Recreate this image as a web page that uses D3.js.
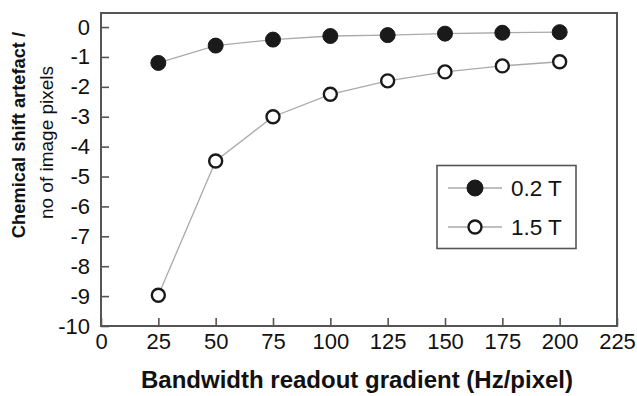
<!DOCTYPE html>
<html><head><meta charset="utf-8">
<script src="https://cdn.jsdelivr.net/npm/d3@7"></script>
<style>body{margin:0;background:#fff}svg{display:block}text{font-family:"Liberation Sans",Arial,sans-serif;fill:#111}</style>
</head><body><svg id="c" width="637" height="396"></svg>
<script>
const xValues = [25, 50, 75, 100, 125, 150, 175, 200];
const series02 = [-1.2, -0.62, -0.42, -0.3, -0.27, -0.22, -0.19, -0.17];
const series15 = [-8.97, -4.48, -3.0, -2.25, -1.8, -1.5, -1.3, -1.16];
const xTicks = [0, 25, 50, 75, 100, 125, 150, 175, 200, 225];
const yTicks = [0, -1, -2, -3, -4, -5, -6, -7, -8, -9, -10];
const seriesNames = ["0.2 T", "1.5 T"];

const svg = d3.select("#c");
const L = 101, R = 617, T = 13, B = 326;
const x = d3.scaleLinear().domain([0, 225]).range([L, R]);
const y = d3.scaleLinear().domain([-10, 0.47]).range([B, T]);

// axes
const xa = svg.append("g").attr("transform", `translate(0,${B})`)
  .call(d3.axisBottom(x).tickValues(xTicks).tickFormat(d => String(d)).tickSizeInner(-8).tickSizeOuter(0).tickPadding(7));
const ya = svg.append("g").attr("transform", `translate(${L},0)`)
  .call(d3.axisLeft(y).tickValues(yTicks).tickFormat(d => String(d)).tickSizeInner(-8).tickSizeOuter(0).tickPadding(11));
[xa, ya].forEach(a => {
  a.select(".domain").remove();
  a.selectAll("line").attr("stroke", "#555").attr("stroke-width", 1.6);
  a.selectAll("text").style("font-size", "22px").attr("fill", "#111");
});
xa.selectAll("text").attr("dy", "0.71em");
// frame
svg.append("rect").attr("x", L).attr("y", T).attr("width", R - L).attr("height", B - T)
  .attr("fill", "none").attr("stroke", "#555").attr("stroke-width", 2);

const line = d3.line().x((d, i) => x(xValues[i])).y(d => y(d));
const data = [series02, series15];
data.forEach((s, k) => {
  svg.append("path").attr("d", line(s)).attr("fill", "none").attr("stroke", "#aaa").attr("stroke-width", 1.3);
});
data.forEach((s, k) => {
  svg.selectAll(null).data(s).enter().append("circle")
    .attr("cx", (d, i) => x(xValues[i])).attr("cy", d => y(d))
    .attr("r", k === 0 ? 7.5 : 6.5)
    .attr("fill", k === 0 ? "#1a1a1a" : "#fff")
    .attr("stroke", "#1a1a1a").attr("stroke-width", k === 0 ? 1 : 2.4);
});

// legend
const lg = svg.append("g");
lg.append("rect").attr("x", 437).attr("y", 165.5).attr("width", 139).attr("height", 83)
  .attr("fill", "#fff").attr("stroke", "#555").attr("stroke-width", 1.6);
seriesNames.forEach((n, k) => {
  const cy = k === 0 ? 188 : 227;
  lg.append("line").attr("x1", 448).attr("x2", 502).attr("y1", cy).attr("y2", cy).attr("stroke", "#aaa").attr("stroke-width", 1.3);
  lg.append("circle").attr("cx", 475).attr("cy", cy).attr("r", k === 0 ? 8 : 6.5)
    .attr("fill", k === 0 ? "#1a1a1a" : "#fff").attr("stroke", "#1a1a1a").attr("stroke-width", k === 0 ? 1 : 2.4);
  lg.append("text").attr("x", 511).attr("y", cy + 8).style("font-size", "22.5px").text(n);
});

// labels
svg.append("text").attr("x", 357).attr("y", 388).attr("text-anchor", "middle")
  .style("font-size", "24px").style("font-weight", "bold").text("Bandwidth readout gradient (Hz/pixel)");
svg.append("text").attr("transform", "translate(25,135) rotate(-90)").attr("text-anchor", "middle")
  .style("font-size", "18.3px").style("font-weight", "bold").text("Chemical shift artefact /");
svg.append("text").attr("transform", "translate(53,142.5) rotate(-90)").attr("text-anchor", "middle")
  .style("font-size", "19px").text("no of image pixels");
</script></body></html>
